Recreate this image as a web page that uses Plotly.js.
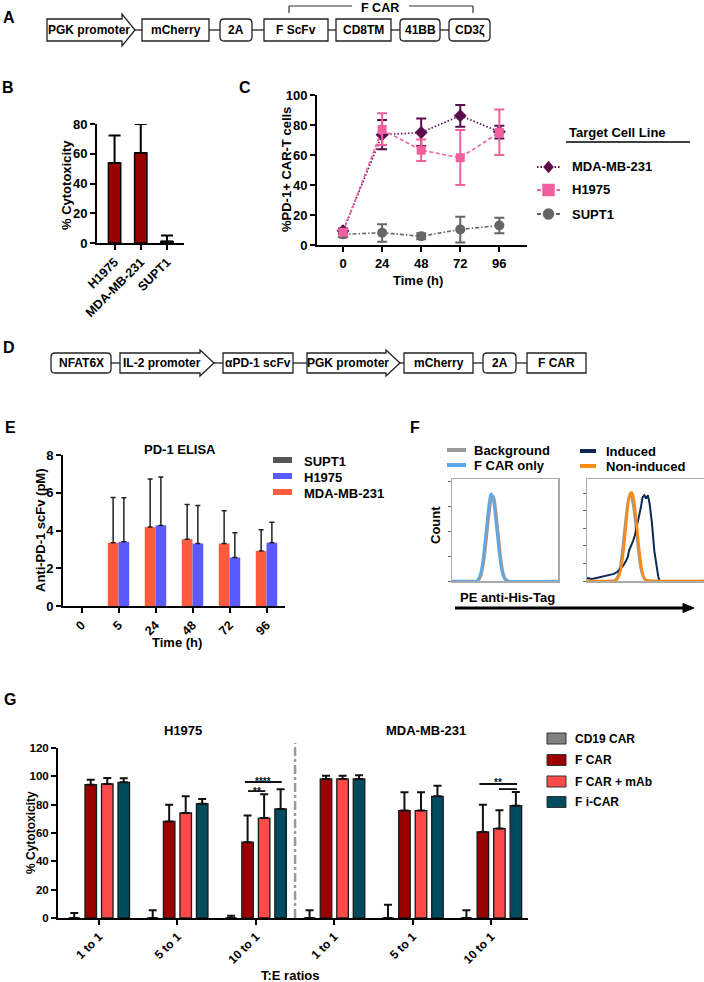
<!DOCTYPE html>
<html><head><meta charset="utf-8">
<script src="https://cdn.plot.ly/plotly-3.0.1.min.js"></script>
<style>html,body{margin:0;padding:0;background:#fff;}#chart{width:704px;height:982px;}</style>
</head><body><div id="chart"></div>
<script>
// ================= DATA =================
// Panel A / D construct labels
const aParts = ['PGK promoter','mCherry','2A','F ScFv','CD8TM','41BB','CD3ζ'];
const aGroupLabel = 'F CAR';
const dParts = ['NFAT6X','IL-2 promoter','αPD-1 scFv','PGK promoter','mCherry','2A','F CAR'];

// Panel B
const bLines = ['H1975','MDA-MB-231','SUPT1'];
const bCyto = [53.8, 60.5, 1.0];
const bCytoErr = [18.4, 19.5, 4.0];

// Panel C
const cTime = [0,24,48,72,96];
const cSeriesNames = ['MDA-MB-231','H1975','SUPT1'];
const cLegendTitle = 'Target Cell Line';
const cMDA = [9.5,73.5,75.0,86.2,75.5];
const cMDAUp = [1.5,9.8,9.4,7.1,4.0];
const cMDADown = [1.5,9.7,9.0,7.3,4.5];
const cH1975 = [8.5,77.0,63.2,58.2,75.0];
const cH1975Up = [1.5,10.8,7.2,18.5,15.4];
const cH1975Down = [1.5,10.3,7.2,18.2,15.0];
const cSUPT1 = [7.1,8.2,5.8,10.4,13.0];
const cSUPT1Up = [2.0,5.6,2.0,8.5,5.2];
const cSUPT1Down = [2.0,6.0,2.0,8.8,5.2];

// Panel E (no error bar at time 0)
const eTimes = ['0','5','24','48','72','96'];
const eNames = ['SUPT1','H1975','MDA-MB-231'];
const eSUPT1 = [0,0,0,0,0,0];
const eH1975 = [0,3.40,4.27,3.31,2.57,3.35];
const eH1975Err = [NaN,2.33,2.56,2.02,1.31,1.09];
const eMDA = [0,3.35,4.18,3.54,3.31,2.92];
const eMDAErr = [NaN,2.40,2.55,1.84,1.73,1.12];

// Panel F (histograms: channel vs relative count)
const fLegend = ['Background','F CAR only','Induced','Non-induced'];
const fBgLeftCh = [0,20,24,26,28,30,32,34,36,37,38,39,40,41,42,44,46,48,50,52,54,100];
const fBgLeftCount = [0,0,0,2,7,18,35,55,73,80,83,83,80,73,64,44,24,10,3,1,0,0];
const fBlueCh = [0,10,20,22,24,26,28,30,32,34,35,36,37,38,39,40,42,44,46,48,50,52,60,80,100];
const fBlueCount = [0,0,0,0,1,5,14,30,50,70,78,84,86,84,78,70,50,30,14,5,1,0,0,0,0];
const fBgRightCh = [0,20,24,26,28,30,32,34,35,36,37,38,40,42,44,46,48,50,100];
const fBgRightCount = [0,0,1,4,12,28,50,70,78,83,84,82,70,50,28,12,4,1,0];
const fNavyCh = [0,4,8,12,17,20,23,26,29,31,33,35,36,38,39,41,42,44,46,47.5,49,50.5,52,53.5,55.5,57.5,59,60,61,62,70,100];
const fNavyCount = [3,2,3,4,5,6,7,9,13,15,19,24,30,35,38,45,50,60,72,82,84,81,84,76,57,30,16,11,4,0,0,0];
const fOrangeCh = [0,20,24,26,28,30,32,34,35,36,37,38,39,40,42,44,46,48,50,52,60,100];
const fOrangeCount = [0,0,0,2,7,18,38,62,74,82,86,87,85,80,62,38,18,6,1,0,0,0];

// Panel G
const gRatios = ['1 to 1','5 to 1','10 to 1','1 to 1','5 to 1','10 to 1'];
const gTargets = ['H1975','MDA-MB-231'];
const gNames = ['CD19 CAR','F CAR','F CAR + mAb','F i-CAR'];
const gCD19 = [0,0,0,0,0,0];
const gCD19Err = [3.5,5.4,1.6,5.4,9.4,5.4];
const gFCAR = [94.1,68.2,53.5,98.2,75.8,60.7];
const gFCARErr = [3.5,11.8,18.8,2.3,12.9,19.3];
const gFCARmAb = [94.6,74.1,70.5,98.2,75.8,63.1];
const gFCARmAbErr = [4.2,11.8,16.9,2.3,12.9,12.9];
const gFiCAR = [95.8,80.7,77.0,98.2,85.9,79.3];
const gFiCARErr = [2.8,3.3,13.9,2.5,7.5,9.6];

// ================= HELPERS =================
const W = 704, H = 982;
const FONT = 'Liberation Sans, Arial, Helvetica, sans-serif';
const X = px => px / W;
const Y = py => 1 - py / H;
const dx = (a, b) => [X(a), X(b)];
const dy = (top, bottom) => [Y(bottom), Y(top)];
const zeros = arr => arr.map(() => 0);
const f2 = (x, y) => X(x).toFixed(5) + ',' + Y(y).toFixed(5);

const shapes = [];
const ann = [];

function T(px, py, text, size, xa, extra) {
  ann.push(Object.assign({xref:'paper', yref:'paper', x:X(px), y:Y(py), text:text, showarrow:false,
    xanchor:xa || 'center', yanchor:'middle',
    font:{family:FONT, size:size, color:'#000', weight:'bold'}}, extra || {}));
}
function L(x0, y0, x1, y1, color, width, dash) {
  shapes.push({type:'line', xref:'paper', yref:'paper', x0:X(x0), y0:Y(y0), x1:X(x1), y1:Y(y1),
    line:{color:color || '#222', width:width || 1.3, dash:dash || 'solid'}});
}
function R(x0, y0, x1, y1, fill, lc, lw) {
  shapes.push({type:'rect', xref:'paper', yref:'paper', x0:X(x0), x1:X(x1), y0:Y(y1), y1:Y(y0),
    fillcolor:fill || '#fff', line:{color:lc || '#222', width:lw === undefined ? 1.3 : lw}});
}
function PATH(d, fill, lc, lw) {
  shapes.push({type:'path', xref:'paper', yref:'paper', path:d, fillcolor:fill || '#fff',
    line:{color:lc || '#222', width:lw === undefined ? 1.3 : lw}});
}
function poly(pts) { return 'M' + pts.map(p => f2(p[0], p[1])).join(' L') + ' Z'; }
function rrect(x0, y0, x1, y1, r) {
  return `M${f2(x0+r,y0)} L${f2(x1-r,y0)} Q${f2(x1,y0)} ${f2(x1,y0+r)} L${f2(x1,y1-r)} Q${f2(x1,y1)} ${f2(x1-r,y1)} L${f2(x0+r,y1)} Q${f2(x0,y1)} ${f2(x0,y1-r)} L${f2(x0,y0+r)} Q${f2(x0,y0)} ${f2(x0+r,y0)} Z`;
}
function construct(parts, geom, yTop, yBot, head) {
  const yc = (yTop + yBot) / 2;
  geom.forEach((g, i) => {
    if (g.k === 'arrow') {
      PATH(poly([[g.x0,yTop],[g.x1,yTop],[g.x1,yTop-head],[g.tip,yc],[g.x1,yBot+head],[g.x1,yBot],[g.x0,yBot]]));
    } else if (g.k === 'round') {
      PATH(rrect(g.x0, yTop, g.x1, yBot, 4));
    } else {
      R(g.x0, yTop, g.x1, yBot);
    }
    const right = g.k === 'arrow' ? g.tip : g.x1;
    if (i < geom.length - 1) L(right, yc, geom[i+1].x0, yc, '#222', 1.3);
    T(g.tc !== undefined ? g.tc : (g.x0 + g.x1) / 2, yc, parts[i], 12, 'center');
  });
}

// ================= PANEL LETTERS =================
[['A',9,18],['B',8,88],['C',245,88],['D',9,347],['E',10,427],['F',415,427],['G',10,699]]
  .forEach(p => T(p[1], p[2], p[0], 16, 'center'));

// ================= PANEL A =================
construct(aParts, [
  {k:'arrow', x0:47, x1:122, tip:135, tc:89},
  {k:'rect', x0:142, x1:209},
  {k:'round', x0:220, x1:252},
  {k:'rect', x0:264, x1:328},
  {k:'rect', x0:336, x1:391},
  {k:'round', x0:400, x1:440},
  {k:'round', x0:449, x1:490}
], 19, 41, 5);
L(289, 13, 289, 6, '#333', 1.2); L(289, 6, 352, 6, '#333', 1.2);
L(409, 6, 473, 6, '#333', 1.2); L(473, 6, 473, 13, '#333', 1.2);
T(380, 8.5, aGroupLabel, 12.5, 'center', {borderpad:0});

// ================= PANEL D =================
construct(dParts, [
  {k:'round', x0:51, x1:111},
  {k:'arrow', x0:120, x1:200, tip:214, tc:162},
  {k:'rect', x0:223, x1:293},
  {k:'arrow', x0:307, x1:386, tip:400, tc:348},
  {k:'rect', x0:404, x1:473},
  {k:'round', x0:483, x1:516},
  {k:'rect', x0:527, x1:586}
], 353, 373, 3);

// ================= COMMON AXIS =================
function tf(size) { return {family:FONT, size:size, color:'#000', weight:'bold'}; }
function ax(extra) {
  return Object.assign({showline:true, linecolor:'#000', linewidth:2, ticks:'outside', ticklen:5,
    tickwidth:2, tickcolor:'#000', showgrid:false, zeroline:false, fixedrange:true,
    tickfont:tf(12)}, extra);
}

const traces = [];

// ================= PANEL B =================
traces.push({type:'bar', x:bLines, y:bCyto, xaxis:'x', yaxis:'y', width:0.47,
  marker:{color:'#990000', line:{color:'#000', width:1.5}},
  error_y:{type:'data', symmetric:false, array:bCytoErr, arrayminus:zeros(bCyto), color:'#000', thickness:2, width:6},
  hoverinfo:'skip', showlegend:false});
T(66, 185, '% Cytotoxicity', 13, 'center', {textangle:-90});

// ================= PANEL C =================
function cTrace(y, up, down, color, symbol, dash, size) {
  return {type:'scatter', mode:'lines+markers', x:cTime, y:y, xaxis:'x2', yaxis:'y2',
    line:{color:color, width:1.6, dash:dash}, marker:{color:color, symbol:symbol, size:size},
    error_y:{type:'data', symmetric:false, array:up, arrayminus:down, color:color, thickness:2, width:5},
    hoverinfo:'skip', showlegend:false, cliponaxis:false};
}
const cCols = ['#5a0d4c', '#f0609e', '#666666'];
const cDash = ['1.5px,2px', '4px,2.5px', '4px,2px,1.5px,2px'];
traces.push(cTrace(cSUPT1, cSUPT1Up, cSUPT1Down, cCols[2], 'circle', cDash[2], 10));
traces.push(cTrace(cMDA, cMDAUp, cMDADown, cCols[0], 'diamond', cDash[0], 10));
traces.push(cTrace(cH1975, cH1975Up, cH1975Down, cCols[1], 'square', cDash[1], 9));
T(287, 170, '%PD-1+ CAR-T cells', 13, 'center', {textangle:-90});
T(418, 280, 'Time (h)', 13, 'center');
// legend C
T(567, 133, cLegendTitle, 13, 'left');
L(566, 142, 690, 142, '#000', 1.5);
const cLegY = [167, 190, 214];
cSeriesNames.forEach((n, i) => {
  L(537, cLegY[i], 560, cLegY[i], cCols[i], 1.8, cDash[i]);
  T(570, cLegY[i], n, 13, 'left');
});
{
  const cx = 548.5, y0 = cLegY[0];
  PATH(poly([[cx-5,y0],[cx,y0-6],[cx+5,y0],[cx,y0+6]]), cCols[0], cCols[0], 0.5);
  R(cx-6, cLegY[1]-6, cx+6, cLegY[1]+6, cCols[1], cCols[1], 0.5);
  shapes.push({type:'circle', xref:'paper', yref:'paper', x0:X(cx-5.5), x1:X(cx+5.5), y0:Y(cLegY[2]+5.5), y1:Y(cLegY[2]-5.5),
    fillcolor:cCols[2], line:{color:cCols[2], width:0.5}});
}

// ================= PANEL E =================
const eCols = ['#555555', '#5a5aff', '#ff5a3c'];
traces.push({type:'bar', x:eTimes, y:eSUPT1, xaxis:'x3', yaxis:'y3', width:0.29, offset:-0.435,
  marker:{color:eCols[0], line:{width:0}}, hoverinfo:'skip', showlegend:false});
traces.push({type:'bar', x:eTimes, y:eMDA, xaxis:'x3', yaxis:'y3', width:0.29, offset:-0.29,
  marker:{color:eCols[2], line:{width:0}},
  error_y:{type:'data', symmetric:false, array:eMDAErr, arrayminus:eMDAErr.map(v => isNaN(v) ? NaN : 0), color:'#222', thickness:1.5, width:2.5},
  hoverinfo:'skip', showlegend:false});
traces.push({type:'bar', x:eTimes, y:eH1975, xaxis:'x3', yaxis:'y3', width:0.29, offset:0,
  marker:{color:eCols[1], line:{width:0}},
  error_y:{type:'data', symmetric:false, array:eH1975Err, arrayminus:eH1975Err.map(v => isNaN(v) ? NaN : 0), color:'#222', thickness:1.5, width:2.5},
  hoverinfo:'skip', showlegend:false});
T(180, 449, 'PD-1 ELISA', 13, 'center');
T(40, 530, 'Anti-PD-1 scFv (pM)', 13, 'center', {textangle:-90});
T(177, 642, 'Time (h)', 13, 'center');
const eLegY = [461, 477, 493];
eNames.forEach((n, i) => {
  R(273, eLegY[i]-4, 292, eLegY[i]+2, eCols[i], eCols[i], 0);
  T(302, eLegY[i], n, 13, 'left');
});

// ================= PANEL F =================
function fTrace(x, y, xa, ya, color, w, shape) {
  return {type:'scatter', mode:'lines', x:x, y:y, xaxis:xa, yaxis:ya,
    line:{color:color, width:w, shape:shape || 'spline', smoothing:0.6}, hoverinfo:'skip', showlegend:false};
}
const fCols = ['#9a9a9a', '#5aa8ee', '#0c2a52', '#ff8a10'];
traces.push(fTrace(fBgLeftCh, fBgLeftCount, 'x4', 'y4', fCols[0], 2.5));
traces.push(fTrace(fBlueCh, fBlueCount, 'x4', 'y4', fCols[1], 2.2));
traces.push(fTrace(fBgRightCh, fBgRightCount, 'x5', 'y5', fCols[0], 2.5));
traces.push(fTrace(fNavyCh, fNavyCount, 'x5', 'y5', fCols[2], 2, 'linear'));
traces.push(fTrace(fOrangeCh, fOrangeCount, 'x5', 'y5', fCols[3], 2.5));
T(435, 525, 'Count', 13, 'center', {textangle:-90});
T(458, 597, 'PE anti-His-Tag', 13, 'left');
L(455, 608, 685, 608, '#000', 3);
PATH(poly([[683,603.5],[694,608],[683,612.5]]), '#000', '#000', 1);
const fLegPos = [[447,450],[447,465],[580,451],[580,466]];
fLegend.forEach((n, i) => {
  const p = fLegPos[i];
  R(p[0], p[1]-2, p[0] + (i < 2 ? 19 : 16), p[1]+2, fCols[i], fCols[i], 0);
  T(p[0] + (i < 2 ? 25 : 24), p[1], n, 13, 'left');
});

// ================= PANEL G =================
const gx = gRatios.map((_, i) => i);
const gVals = [gCD19, gFCAR, gFCARmAb, gFiCAR];
const gErrs = [gCD19Err, gFCARErr, gFCARmAbErr, gFiCARErr];
const gCols = ['#808080', '#9b0000', '#ff4a4a', '#004b5e'];
const gOff = [-0.389, -0.179, 0.032, 0.242];
gVals.forEach((v, k) => {
  traces.push({type:'bar', x:gx, y:v, xaxis:'x6', yaxis:'y6', width:0.147, offset:gOff[k],
    marker:{color:gCols[k], line:{color:'#1a1a1a', width:1.3}},
    error_y:{type:'data', symmetric:false, array:gErrs[k], arrayminus:zeros(v), color:'#111', thickness:2, width:4},
    hoverinfo:'skip', showlegend:false});
});
T(183, 730, gTargets[0], 13, 'center');
T(426, 730, gTargets[1], 13, 'center');
T(31, 833, '% Cytotoxicity', 12, 'center', {textangle:-90});
T(290, 975, 'T:E ratios', 13, 'center');
// divider
shapes.push({type:'line', xref:'x6', yref:'paper', x0:2.5, x1:2.5, y0:Y(918), y1:Y(743),
  line:{color:'#9a9a9a', width:2.5, dash:'dashdot'}});
// significance bars
const gSig = [[1.86, 2.33, 96, '****', 1], [1.90, 2.12, 89.6, '**', 0], [4.85, 5.33, 94.6, '**', 1]];
gSig.forEach(s => {
  shapes.push({type:'line', xref:'x6', yref:'y6', x0:s[0], x1:s[1], y0:s[2], y1:s[2], line:{color:'#111', width:1.8}});
  ann.push({xref:'x6', yref:'y6', x:(s[0]+s[1])/2, y:s[2], text:s[3], showarrow:false, xanchor:'center', yanchor:'middle',
    yshift:s[4], borderpad:0, font:{family:FONT, size:10, color:'#111', weight:'bold'}});
});
shapes.push({type:'line', xref:'x6', yref:'y6', x0:5.1, x1:5.33, y0:91, y1:91, line:{color:'#111', width:1.8}});
// legend G
const gLegY = [738.5, 760, 781.5, 802];
gNames.forEach((n, i) => {
  R(547, gLegY[i]-5.5, 566, gLegY[i]+5.5, gCols[i], '#333', 1);
  T(573, gLegY[i], n, 12, 'left');
});

// ================= LAYOUT =================
const fBox = {showline:true, mirror:true, linecolor:'#aaaaaa', linewidth:1.5, showgrid:false, zeroline:false, fixedrange:true};
const layout = {
  width: W, height: H, margin:{l:0, r:0, t:0, b:0},
  paper_bgcolor:'#fff', plot_bgcolor:'rgba(0,0,0,0)', showlegend:false, barmode:'overlay',
  font:{family:FONT, color:'#000'},
  xaxis: ax({domain:dx(97,184), anchor:'y', type:'category', range:[-0.67, 2.65], tickangle:-45, tickfont:tf(12.5)}),
  yaxis: ax({domain:dy(124,243), anchor:'x', range:[0,80], tickvals:[0,20,40,60,80], tickfont:tf(13)}),
  xaxis2: ax({domain:dx(317,527), anchor:'y2', range:[-16,113], tickvals:cTime, tickfont:tf(13)}),
  yaxis2: ax({domain:dy(95,245), anchor:'x2', range:[0,100], tickvals:[0,20,40,60,80,100], tickfont:tf(13)}),
  xaxis3: ax({domain:dx(63,285), anchor:'y3', type:'category', range:[-0.5,5.5], tickangle:-45, tickfont:tf(12.5)}),
  yaxis3: ax({domain:dy(455,606), anchor:'x3', range:[0,8], tickvals:[0,2,4,6,8], tickfont:tf(13)}),
  xaxis4: Object.assign({domain:dx(452,558), anchor:'y4', range:[0,100], ticks:'', showticklabels:false}, fBox),
  yaxis4: Object.assign({domain:dy(479,581), anchor:'x4', range:[0,100], ticks:'outside', ticklen:3, tickwidth:1,
    tickcolor:'#666', tickvals:[0,24.5,49,73.5,98], showticklabels:false}, fBox),
  xaxis5: Object.assign({domain:dx(587,704), anchor:'y5', range:[0,100], ticks:'', showticklabels:false}, fBox),
  yaxis5: Object.assign({domain:dy(479,581), anchor:'x5', range:[0,100], ticks:'outside', ticklen:3, tickwidth:1,
    tickcolor:'#666', tickvals:[0,17.2,34.4,51.6,68.8,86], showticklabels:false}, fBox),
  xaxis6: ax({domain:dx(58,528), anchor:'y6', range:[-0.523,5.47], tickvals:gx, ticktext:gRatios, tickangle:-45,
    tickfont:tf(12)}),
  yaxis6: ax({domain:dy(748,918), anchor:'x6', range:[0,120], tickvals:[0,20,40,60,80,100,120], tickfont:tf(11.5)}),
  shapes: shapes,
  annotations: ann
};

Plotly.newPlot('chart', traces, layout, {staticPlot:true, displayModeBar:false});
</script></body></html>
